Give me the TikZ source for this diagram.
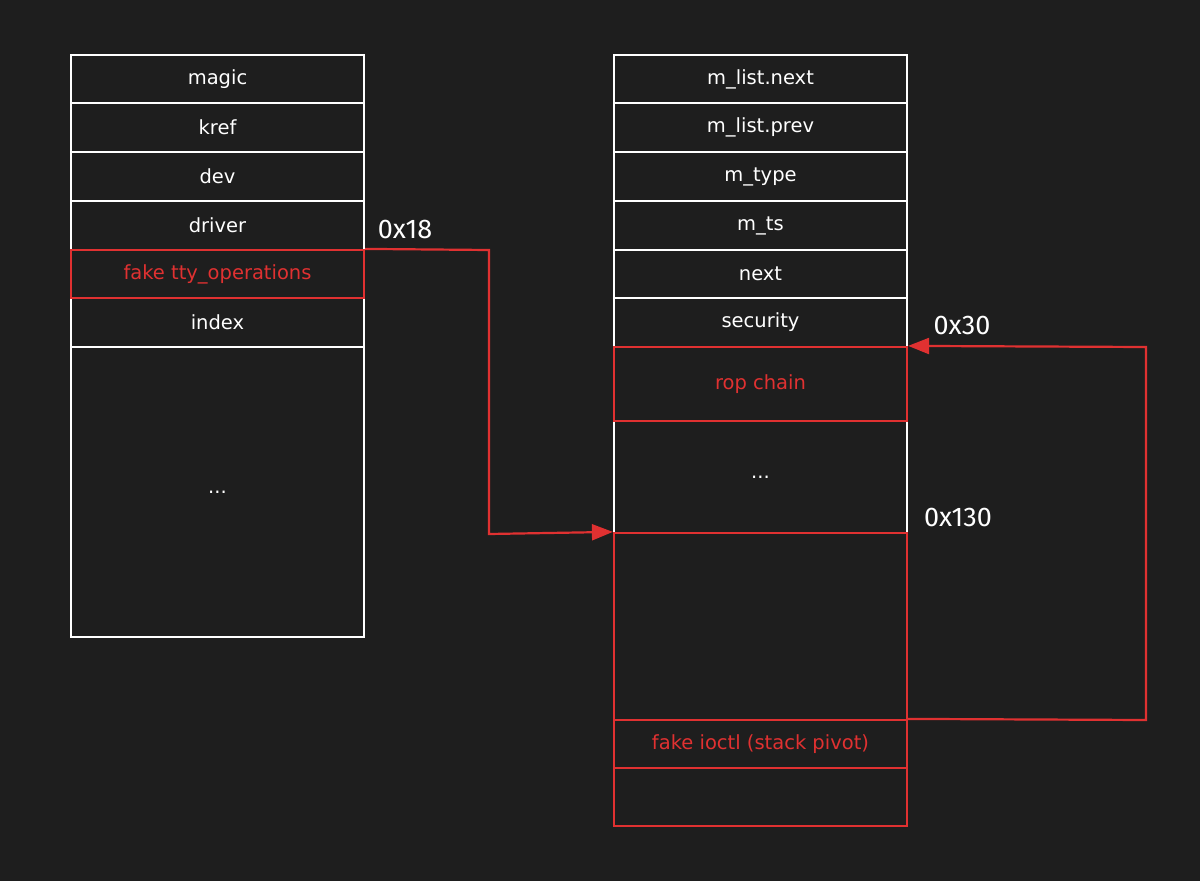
\documentclass[tikz,border=0pt]{standalone}
\usepackage{fontspec}
\setmainfont{Fira Sans}
\newfontfamily\cellfont{DejaVu Sans}
\usetikzlibrary{arrows.meta}
\definecolor{bg}{HTML}{1E1E1E}
\definecolor{redc}{HTML}{E03131}
\begin{document}
\begin{tikzpicture}[x=1pt,y=-1pt,
  cell/.style={draw=white,line width=2.2pt,rectangle,inner sep=0pt,minimum width=293pt,
    text=white,font=\cellfont\fontsize{19.5}{22}\selectfont},
  redcell/.style={cell,draw=redc,text=redc},
  lbl/.style={text=white,font=\fontsize{27}{30}\selectfont,inner sep=0pt},
  conn/.style={draw=redc,line width=2.2pt,-{Triangle[length=21pt,width=16pt]}}]
\fill[bg] (0,0) rectangle (1200,881);
\useasboundingbox (0,0) rectangle (1200,881);
% left column
\node[cell,minimum height=48.5pt] (magic) at (217.5,79) {magic};
\node[cell,minimum height=49pt] (kref) at (217.5,127.5) {kref};
\node[cell,minimum height=49pt] (dev) at (217.5,176.5) {dev};
\node[cell,minimum height=49pt] (driver) at (217.5,225.5) {driver};
\node[cell,minimum height=49pt] (index) at (217.5,322.5) {index};
\node[cell,minimum height=290pt] (ldots) at (217.5,492) {...};
\node[redcell,minimum height=48pt] (ftty) at (217.5,274) {fake tty\_operations};
% right column
\node[cell,minimum height=48.5pt] (mnext) at (760.5,79) {m\_list.next};
\node[cell,minimum height=49pt] (mprev) at (760.5,127.5) {m\_list.prev};
\node[cell,minimum height=49pt] (mtype) at (760.5,176.5) {m\_type};
\node[cell,minimum height=49pt] (mts) at (760.5,225.5) {m\_ts};
\node[cell,minimum height=48pt] (next) at (760.5,274) {next};
\node[cell,minimum height=49pt] (security) at (760.5,322.5) {security};
\node[cell,minimum height=112pt] (rdots) at (760.5,477) {...};
\node[redcell,minimum height=74pt] (rop) at (760.5,384) {rop chain};
\node[redcell,minimum height=187pt] (fakeops) at (760.5,626.5) {};
\node[redcell,minimum height=48pt] (ioctl) at (760.5,744) {fake ioctl (stack pivot)};
\node[redcell,minimum height=58pt] (rlast) at (760.5,797) {};
% labels
\node[lbl] (l18) at (405,229) {0x18};
\node[lbl] (l30) at (962,325) {0x30};
\node[lbl] (l130) at (958,517) {0x130};
% connectors
\coordinate (c1) at (489,250);
\coordinate (c2) at (489,534);
\draw[conn] (ftty.north east) -- (c1) -- (c2) -- (fakeops.north west);
\coordinate (c3) at (1146,720);
\coordinate (c4) at (1146,347);
\draw[conn] (ioctl.north east) -- (c3) -- (c4) -- (rop.north east);
\end{tikzpicture}
\end{document}
